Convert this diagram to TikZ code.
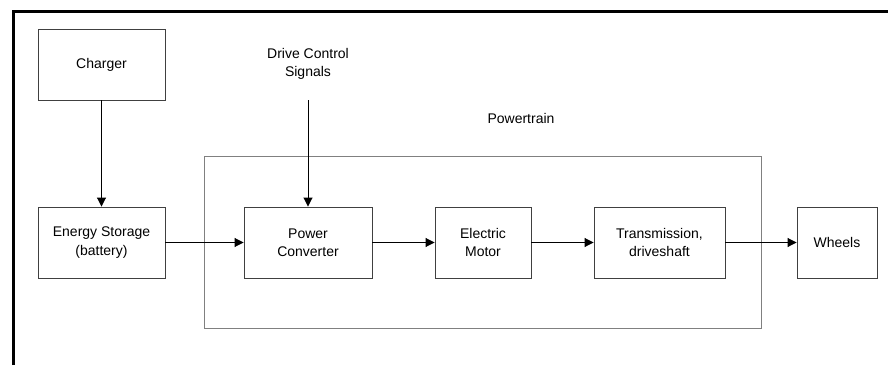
\documentclass[tikz,border=0pt]{standalone}
\usepackage{fontspec}
\setmainfont{Liberation Sans}
\usetikzlibrary{arrows.meta}
\definecolor{boxgray}{HTML}{404040}
\definecolor{ptgray}{HTML}{808080}
\begin{document}
\begin{tikzpicture}[x=1pt,y=1pt,
  blk/.style={draw=boxgray, line width=0.9pt, minimum height=71pt, align=center, inner sep=0pt,
    font=\fontsize{14}{18.5}\selectfont},
  lbl/.style={align=center, inner sep=0pt, font=\fontsize{14}{18.5}\selectfont},
  flow/.style={draw=black, line width=0.9pt, -{Triangle[length=9pt,width=9pt]}}]
\useasboundingbox (0,0) rectangle (888,365);
% page frame (top and left)
\draw[line width=3pt] (13.5,0) -- (13.5,353.5) -- (888,353.5);
% powertrain enclosure
\node[draw=ptgray, line width=0.9pt, minimum width=557pt, minimum height=172pt, inner sep=0pt] (pt) at (482.5,123) {};
\node[lbl] (ptlbl) at (521,247) {Powertrain};
% blocks
\node[blk, minimum width=127pt] (ch) at (101.5,300.5) {Charger};
\node[blk, minimum width=127pt] (es) at (101.5,122.5) {Energy Storage\\(battery)};
\node[blk, minimum width=128pt] (pc) at (308,122.5) {Power\\Converter};
\node[blk, minimum width=96pt] (em) at (483,122.5) {Electric\\Motor};
\node[blk, minimum width=131pt] (tr) at (659.5,122.5) {Transmission,\\driveshaft};
\node[blk, minimum width=80pt] (wh) at (837,122.5) {Wheels};
\node[lbl] (dcs) at (308,301) {Drive Control\\Signals};
\coordinate (dcsend) at (308,265);
% connectors
\draw[flow] (ch) -- (es);
\draw[flow] (dcsend) -- (pc);
\draw[flow] (es) -- (pc);
\draw[flow] (pc) -- (em);
\draw[flow] (em) -- (tr);
\draw[flow] (tr) -- (wh);
\end{tikzpicture}
\end{document}
